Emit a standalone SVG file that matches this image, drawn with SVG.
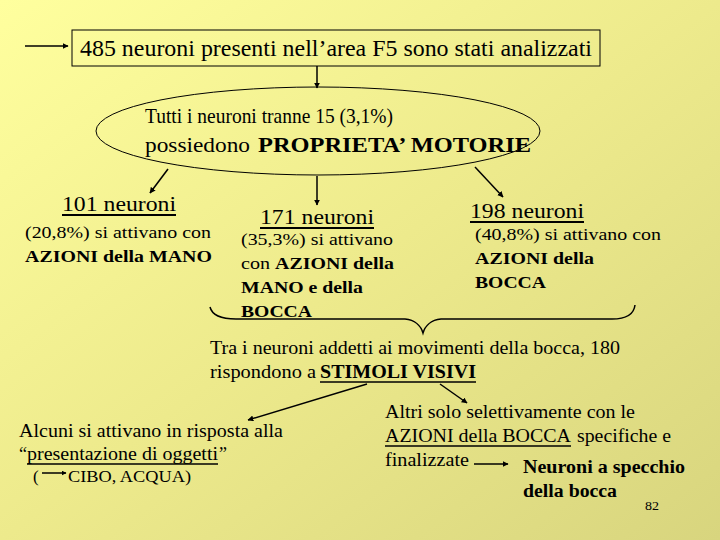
<svg xmlns="http://www.w3.org/2000/svg" width="720" height="540" viewBox="0 0 720 540">
<defs>
<linearGradient id="bg" x1="0" y1="0" x2="1" y2="1">
<stop offset="0" stop-color="#FFFF9E"/>
<stop offset="0.5" stop-color="#EDEA8C"/>
<stop offset="1" stop-color="#D8D57E"/>
</linearGradient>
<marker id="ah" viewBox="0 0 10 10" refX="9" refY="5" markerWidth="6" markerHeight="6" markerUnits="userSpaceOnUse" orient="auto">
<path d="M0,0 L10,5 L0,10 z" fill="#000"/>
</marker>
<marker id="ahs" viewBox="0 0 10 10" refX="9" refY="5" markerWidth="5" markerHeight="5" markerUnits="userSpaceOnUse" orient="auto">
<path d="M0,0 L10,5 L0,10 z" fill="#000"/>
</marker>
</defs>
<style>
.t24{font-size:24px}
.t22{font-size:22px}
.t18{font-size:18px}
.t17{font-size:17px}
.b{font-weight:bold}
.ln{stroke:#000;stroke-width:1.5;fill:none}
.ul{stroke:#000;stroke-width:1.3}
.ulb{stroke:#000;stroke-width:2}
</style>
<rect width="720" height="540" fill="url(#bg)"/>

<g id="connectors">
<line class="ln" x1="25" y1="46" x2="68" y2="46" marker-end="url(#ah)"/>
<line class="ln" x1="317" y1="66" x2="317" y2="88" marker-end="url(#ah)"/>
<line class="ln" x1="168" y1="169" x2="150" y2="193" marker-end="url(#ah)"/>
<line class="ln" x1="317" y1="176" x2="317" y2="205" marker-end="url(#ah)"/>
<line class="ln" x1="475" y1="167" x2="503" y2="197" marker-end="url(#ah)"/>
<path class="ln" stroke-width="1" d="M210,307 C212,315 222,319 236,319 L405,319 C415,320 421,326 423,333 C425,326 431,320 441,319 L612,319 C626,319 634,314 635,305"/>
<line class="ln" x1="367" y1="384" x2="248" y2="420" marker-end="url(#ah)"/>
<line class="ln" x1="440" y1="384" x2="467" y2="403" marker-end="url(#ah)"/>
<line class="ln" x1="474" y1="464" x2="508" y2="464" marker-end="url(#ah)"/>
<line class="ln" x1="42" y1="473" x2="66" y2="473" marker-end="url(#ahs)"/>
</g>

<g id="n-analizzati">
<rect x="72" y="30" width="528" height="36" fill="none" stroke="#000" stroke-width="1"/>
<text font-family="Liberation Serif, serif" class="t24" x="80" y="56" textLength="512" lengthAdjust="spacingAndGlyphs">485 neuroni presenti nell’area F5 sono stati analizzati</text>
</g>

<g id="n-motorie">
<ellipse cx="318" cy="131" rx="222" ry="44" fill="none" stroke="#000" stroke-width="1"/>
<text font-family="Liberation Serif, serif" class="t22" x="145" y="123" textLength="248" lengthAdjust="spacingAndGlyphs">Tutti i neuroni tranne 15 (3,1%)</text>
<text font-family="Liberation Serif, serif" class="t22" x="145" y="152" textLength="105" lengthAdjust="spacingAndGlyphs">possiedono</text>
<text font-family="Liberation Serif, serif" class="t22 b" x="258" y="152" textLength="273" lengthAdjust="spacingAndGlyphs">PROPRIETA’ MOTORIE</text>
</g>

<g id="n-101">
<text font-family="Liberation Serif, serif" class="t22" x="62" y="211" textLength="114" lengthAdjust="spacingAndGlyphs">101 neuroni</text>
<line class="ulb" x1="62" y1="215" x2="176" y2="215"/>
<text font-family="Liberation Serif, serif" class="t17" x="25" y="238" textLength="186" lengthAdjust="spacingAndGlyphs">(20,8%) si attivano con</text>
<text font-family="Liberation Serif, serif" class="t17 b" x="25" y="262" textLength="187" lengthAdjust="spacingAndGlyphs">AZIONI della MANO</text>
</g>

<g id="n-171">
<text font-family="Liberation Serif, serif" class="t22" x="260" y="224" textLength="114" lengthAdjust="spacingAndGlyphs">171 neuroni</text>
<line class="ulb" x1="260" y1="228" x2="374" y2="228"/>
<text font-family="Liberation Serif, serif" class="t17" x="241" y="245" textLength="152" lengthAdjust="spacingAndGlyphs">(35,3%) si attivano</text>
<text font-family="Liberation Serif, serif" class="t17" x="241" y="269" textLength="29" lengthAdjust="spacingAndGlyphs">con</text>
<text font-family="Liberation Serif, serif" class="t17 b" x="275" y="269" textLength="119" lengthAdjust="spacingAndGlyphs">AZIONI della</text>
<text font-family="Liberation Serif, serif" class="t17 b" x="241" y="293" textLength="122" lengthAdjust="spacingAndGlyphs">MANO e della</text>
<text font-family="Liberation Serif, serif" class="t17 b" x="241" y="317" textLength="71" lengthAdjust="spacingAndGlyphs">BOCCA</text>
</g>

<g id="n-198">
<text font-family="Liberation Serif, serif" class="t22" x="470" y="218" textLength="114" lengthAdjust="spacingAndGlyphs">198 neuroni</text>
<line class="ulb" x1="470" y1="222" x2="584" y2="222"/>
<text font-family="Liberation Serif, serif" class="t17" x="475" y="240" textLength="186" lengthAdjust="spacingAndGlyphs">(40,8%) si attivano con</text>
<text font-family="Liberation Serif, serif" class="t17 b" x="475" y="264" textLength="119" lengthAdjust="spacingAndGlyphs">AZIONI della</text>
<text font-family="Liberation Serif, serif" class="t17 b" x="475" y="288" textLength="71" lengthAdjust="spacingAndGlyphs">BOCCA</text>
</g>

<g id="n-stimoli">
<text font-family="Liberation Serif, serif" class="t18" x="210" y="354" textLength="410" lengthAdjust="spacingAndGlyphs">Tra i neuroni addetti ai movimenti della bocca, 180</text>
<text font-family="Liberation Serif, serif" class="t18" x="210" y="378" textLength="106" lengthAdjust="spacingAndGlyphs">rispondono a</text>
<text font-family="Liberation Serif, serif" class="t18 b" x="320" y="378" textLength="156" lengthAdjust="spacingAndGlyphs">STIMOLI VISIVI</text>
<line class="ul" x1="320" y1="382" x2="476" y2="382"/>
</g>

<g id="n-oggetti">
<text font-family="Liberation Serif, serif" class="t18" x="19" y="437" textLength="264" lengthAdjust="spacingAndGlyphs">Alcuni si attivano in risposta alla</text>
<text font-family="Liberation Serif, serif" class="t18" x="19" y="460">“</text>
<text font-family="Liberation Serif, serif" class="t18" x="27" y="460" textLength="191" lengthAdjust="spacingAndGlyphs">presentazione di oggetti</text>
<line class="ul" x1="27" y1="464" x2="218" y2="464"/>
<text font-family="Liberation Serif, serif" class="t18" x="219" y="460">”</text>
<text font-family="Liberation Serif, serif" class="t17" x="33" y="482">(</text>
<text font-family="Liberation Serif, serif" class="t17" x="68" y="482" textLength="123" lengthAdjust="spacingAndGlyphs">CIBO, ACQUA)</text>
</g>

<g id="n-bocca">
<text font-family="Liberation Serif, serif" class="t18" x="385" y="418" textLength="250" lengthAdjust="spacingAndGlyphs">Altri solo selettivamente con le</text>
<text font-family="Liberation Serif, serif" class="t18" x="385" y="442" textLength="186" lengthAdjust="spacingAndGlyphs">AZIONI della BOCCA</text>
<line class="ul" x1="385" y1="446" x2="571" y2="446"/>
<text font-family="Liberation Serif, serif" class="t18" x="577" y="442" textLength="94" lengthAdjust="spacingAndGlyphs">specifiche e</text>
<text font-family="Liberation Serif, serif" class="t18" x="385" y="466" textLength="84" lengthAdjust="spacingAndGlyphs">finalizzate</text>
</g>

<g id="n-specchio">
<text font-family="Liberation Serif, serif" class="t18 b" x="523" y="473" textLength="162" lengthAdjust="spacingAndGlyphs">Neuroni a specchio</text>
<text font-family="Liberation Serif, serif" class="t18 b" x="523" y="497" textLength="94" lengthAdjust="spacingAndGlyphs">della bocca</text>
</g>

<text font-family="Liberation Serif, serif" x="645" y="510" font-size="13" textLength="14" lengthAdjust="spacingAndGlyphs">82</text>
</svg>
